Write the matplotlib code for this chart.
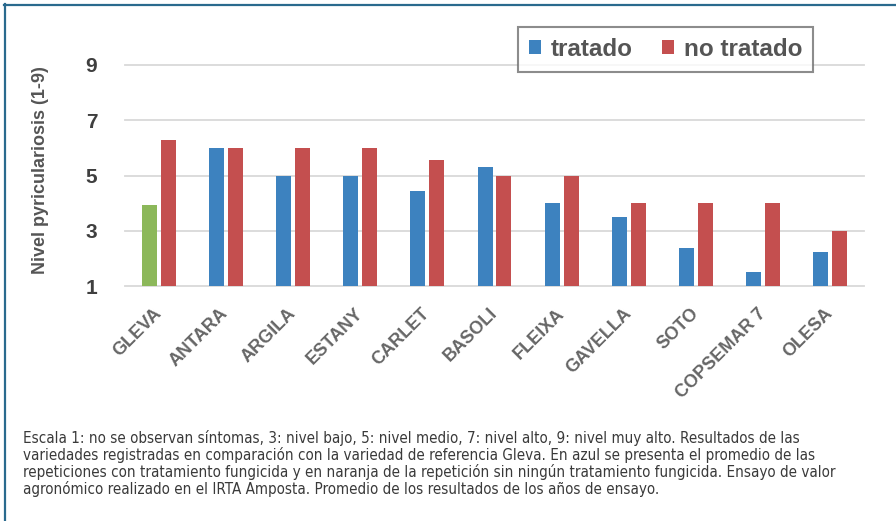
import matplotlib
matplotlib.use("Agg")
import matplotlib.pyplot as plt
import numpy as np
from matplotlib.lines import Line2D
from matplotlib.patches import Patch
from matplotlib import font_manager as fm

categories = ["GLEVA", "ANTARA", "ARGILA", "ESTANY", "CARLET", "BASOLI",
              "FLEIXA", "GAVELLA", "SOTO", "COPSEMAR 7", "OLESA"]
tratado = [3.95, 6.0, 5.0, 5.0, 4.45, 5.3, 4.0, 3.5, 2.38, 1.5, 2.22]
no_tratado = [6.28, 6.0, 6.0, 6.0, 5.55, 5.0, 5.0, 4.0, 4.0, 4.0, 3.0]
yticks = [1, 3, 5, 7, 9]
ylabel = "Nivel pyriculariosis (1-9)"
legend_labels = ["tratado", "no tratado"]
caption_lines = [
    "Escala 1: no se observan síntomas, 3: nivel bajo, 5: nivel medio, 7: nivel alto, 9: nivel muy alto. Resultados de las",
    "variedades registradas en comparación con la variedad de referencia Gleva. En azul se presenta el promedio de las",
    "repeticiones con tratamiento fungicida y en naranja de la repetición sin ningún tratamiento fungicida. Ensayo de valor",
    "agronómico realizado en el IRTA Amposta. Promedio de los resultados de los años de ensayo.",
]

BLUE = "#3d82bf"
RED = "#c44f4f"
GREEN = "#8cb85a"

plt.rcParams['font.family'] = ['Liberation Sans', 'DejaVu Sans']

# look for a regular-weight condensed / narrow font for the caption
cap_font = None
best = -1
for fe in fm.fontManager.ttflist:
    nm = fe.name.lower()
    fn = fe.fname.lower()
    narrow = ("narrow" in nm or "condensed" in nm or "condensed" in fn or "narrow" in fn
              or str(fe.stretch) in ("condensed", "semi-condensed"))
    if not narrow:
        continue
    if fe.style != "normal":
        continue
    if fe.weight not in (400, "normal", "regular", "book"):
        continue
    if any(k in fn for k in ("bold", "oblique", "italic", "light", "mono", "serif")):
        continue
    score = 2 if "liberation" in fn else 1
    if score > best:
        best = score
        cap_font = fe.fname
if cap_font:
    cap_prop = fm.FontProperties(fname=cap_font)
else:
    cap_prop = fm.FontProperties(family=["Liberation Sans", "DejaVu Sans"])

W, H = 896, 521
fig = plt.figure(figsize=(W / 100, H / 100), dpi=100)
fig.patch.set_facecolor("white")

ax = fig.add_axes([125 / W, 1 - 286 / H, (864 - 125) / W, (286 - 65) / H])
x = np.arange(len(categories))
off = 0.141
bw = 0.223
t_colors = [GREEN] + [BLUE] * (len(categories) - 1)
ax.bar(x - off, tratado, width=bw, color=t_colors, zorder=3)
ax.bar(x + off, no_tratado, width=bw, color=RED, zorder=3)

ax.set_xlim(-0.5, len(categories) - 0.5)
ax.set_ylim(1, 9)
ax.set_yticks(yticks)
ax.set_yticklabels([str(v) for v in yticks], fontsize=15, fontweight="bold", color="#3f3f3f")
ax.tick_params(axis="y", length=0, pad=20)
ax.set_xticks(x)
ax.set_xticklabels(categories, rotation=45, ha="right", va="center",
                   rotation_mode="anchor", fontsize=13, fontweight="bold", color="#666666")
ax.tick_params(axis="x", length=0, pad=18)
for s in ax.spines.values():
    s.set_visible(False)
ax.yaxis.grid(True, color="#d9d9d9", linewidth=1.3, zorder=0)
for gl in ax.get_ygridlines():
    gl.set_clip_on(False)
ax.set_axisbelow(True)

ax.set_ylabel(ylabel, fontsize=13, fontweight="bold", color="#555555")
ax.yaxis.set_label_coords(-0.103, 0.525)

handles = [Patch(facecolor=BLUE), Patch(facecolor=RED)]
leg = fig.legend(handles, legend_labels, loc="upper right",
                 bbox_to_anchor=(813 / W, 1 - 27 / H), borderaxespad=0, ncol=2, frameon=True,
                 fancybox=False, handlelength=0.5, handleheight=0.5,
                 handletextpad=0.4, columnspacing=1.2, borderpad=0.45,
                 prop={"size": 17.5, "weight": "bold"})
for t in leg.get_texts():
    t.set_color("#555555")
fr = leg.get_frame()
fr.set_edgecolor("#707070")
fr.set_linewidth(1.5)

# caption
cap_y = [438, 455, 472, 489]
texts = []
for line, yy in zip(caption_lines, cap_y):
    texts.append(fig.text(23 / W, 1 - yy / H, line, ha="left", va="center", fontsize=11,
                          color="#3a3a3a", fontproperties=cap_prop))
for t in texts:
    t.set_fontsize(11)
fig.canvas.draw()
r = fig.canvas.get_renderer()
w3 = texts[2].get_window_extent(r).width
scale = (835 - 23) / w3
for t in texts:
    t.set_fontsize(11 * scale)

# frame lines (top and left)
fig.add_artist(Line2D([4 / W, 1], [1 - 4.5 / H, 1 - 4.5 / H], color="#2a6a8e", linewidth=1.6,
                      transform=fig.transFigure))
fig.add_artist(Line2D([4.5 / W, 4.5 / W], [0, 1 - 4 / H], color="#2a6a8e", linewidth=1.6,
                      transform=fig.transFigure))

fig.savefig("out.png", dpi=100)
